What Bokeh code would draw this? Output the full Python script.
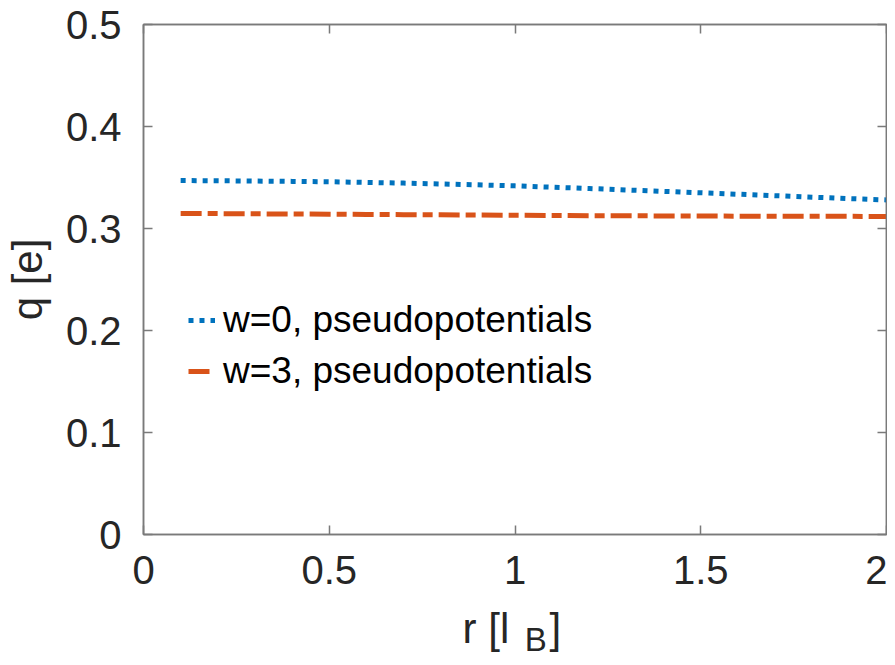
from bokeh.plotting import figure
from bokeh.layouts import column
from bokeh.models import Range1d, LinearAxis, Legend, LegendItem, FixedTicker
from bokeh.core.properties import value
from bokeh.embed import file_html
from bokeh.resources import INLINE

# data
r_vals = [0.1, 0.2, 0.3, 0.4, 0.5, 0.6, 0.7, 0.8, 0.9, 1.0,
          1.1, 1.2, 1.3, 1.4, 1.5, 1.6, 1.7, 1.8, 1.9, 2.0]
q_w0 = [0.3470, 0.3468, 0.3465, 0.3462, 0.3458, 0.3452, 0.3445, 0.3437, 0.3428, 0.3418,
        0.3405, 0.3392, 0.3378, 0.3364, 0.3350, 0.3336, 0.3322, 0.3307, 0.3293, 0.3280]
q_w3 = [0.3148, 0.3146, 0.3144, 0.3142, 0.3140, 0.3138, 0.3136, 0.3134, 0.3132, 0.3130,
        0.3128, 0.3126, 0.3125, 0.3123, 0.3122, 0.3121, 0.3120, 0.3119, 0.3119, 0.3118]
series_labels = ["w=0, pseudopotentials", "w=3, pseudopotentials"]
x_ticks = [0, 0.5, 1, 1.5, 2]
y_ticks = [0, 0.1, 0.2, 0.3, 0.4, 0.5]
x_title_parts = ["r [l", "B", "]"]

FONT = "Liberation Sans"
TXT = "#262626"
AX = "#7a7a7a"
W = 887
xr = Range1d(0, 2)

p = figure(width=W, height=602, output_backend="svg", toolbar_location=None,
           x_range=xr, y_range=Range1d(0, 0.5),
           min_border_left=143, min_border_right=1, min_border_top=24, min_border_bottom=68)
p.background_fill_color = "white"
p.border_fill_color = "white"
p.outline_line_color = AX
p.outline_line_width = 1.5
p.grid.visible = False

for ax in p.xaxis + p.yaxis:
    ax.major_tick_in = 9
    ax.major_tick_out = 0
    ax.minor_tick_in = 0
    ax.minor_tick_out = 0
    ax.axis_line_color = AX
    ax.axis_line_width = 1.5
    ax.major_tick_line_color = AX
    ax.major_tick_line_width = 1.5
    ax.major_label_text_font = FONT
    ax.major_label_text_color = TXT
    ax.major_label_text_font_size = "40px"

p.xaxis.ticker = FixedTicker(ticks=x_ticks)
p.yaxis.ticker = FixedTicker(ticks=y_ticks)
p.xaxis.major_label_standoff = 21
p.yaxis.major_label_standoff = 22
p.yaxis.axis_label = "q [e]"
p.yaxis.axis_label_text_font = FONT
p.yaxis.axis_label_text_font_style = "normal"
p.yaxis.axis_label_text_font_size = "42px"
p.yaxis.axis_label_text_color = TXT
p.yaxis.axis_label_standoff = 12

# top and right axes: ticks only
top = LinearAxis(ticker=FixedTicker(ticks=x_ticks))
right = LinearAxis(ticker=FixedTicker(ticks=y_ticks))
for ax in (top, right):
    ax.major_tick_in = 9
    ax.major_tick_out = 0
    ax.minor_tick_in = 0
    ax.minor_tick_out = 0
    ax.axis_line_color = AX
    ax.axis_line_width = 1.5
    ax.major_tick_line_color = AX
    ax.major_tick_line_width = 1.5
    ax.major_label_text_font_size = "0px"
    ax.major_label_standoff = 0
    ax.major_label_text_color = None
p.add_layout(top, "above")
p.add_layout(right, "right")

l0 = p.line(r_vals, q_w0, line_color="#0072BD", line_width=5, line_dash="5 6", line_cap="butt")
l1 = p.line(r_vals, q_w3, line_color="#D95319", line_width=5, line_dash="21 6 10 6", line_cap="butt")

legend = Legend(items=[LegendItem(label=series_labels[0], renderers=[l0]),
                       LegendItem(label=series_labels[1], renderers=[l1])],
                location=(45, 142), orientation="vertical")
legend.border_line_color = None
legend.background_fill_alpha = 0
legend.padding = 0
legend.margin = 0
legend.spacing = 9
legend.label_height = 40
legend.glyph_height = 40
legend.glyph_width = 27
legend.label_standoff = 8
legend.label_text_font = FONT
legend.label_text_font_size = "37px"
legend.label_text_color = "black"
legend.label_text_baseline = "middle"
p.add_layout(legend, "center")

# x-axis title "r [l_B]" in a strip below, sharing the x range (frames aligned)
H2 = 55
p2 = figure(width=W, height=H2, output_backend="svg", toolbar_location=None,
            x_range=xr, y_range=Range1d(H2, 0),
            min_border_left=143, min_border_right=1, min_border_top=0, min_border_bottom=0)
p2.axis.visible = False
p2.grid.visible = False
p2.outline_line_color = None
p2.background_fill_color = "white"
p2.border_fill_color = "white"
p2.text(x=[0.859], y=[26], text=[x_title_parts[0]], text_font=value(FONT), text_font_size="42px",
        text_color=TXT, text_baseline="alphabetic", text_align="left")
p2.text(x=[1.026], y=[37], text=[x_title_parts[1]], text_font=value(FONT), text_font_size="33px",
        text_color=TXT, text_baseline="alphabetic", text_align="left")
p2.text(x=[1.093], y=[26], text=[x_title_parts[2]], text_font=value(FONT), text_font_size="42px",
        text_color=TXT, text_baseline="alphabetic", text_align="left")

layout = column(p, p2, spacing=0)
open("out.html", "w").write(file_html(layout, INLINE))
